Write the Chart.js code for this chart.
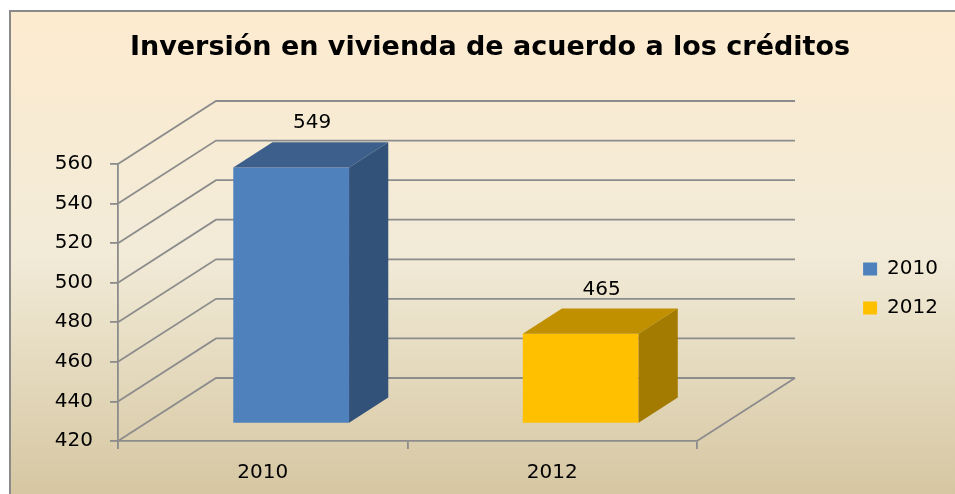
<!DOCTYPE html>
<html>
<head>
<meta charset="utf-8">
<script src="https://cdn.jsdelivr.net/npm/chart.js@4.4.1/dist/chart.umd.min.js"></script>
<style>
html,body{margin:0;padding:0;background:#ffffff;}
#wrap{width:955px;height:494px;position:relative;}
</style>
</head>
<body>
<div id="wrap"><canvas id="c" width="955" height="494"></canvas></div>
<script>
// ---- data ----
const categories = ['2010', '2012'];
const values = [549, 465];
const yTicks = [420, 440, 460, 480, 500, 520, 540, 560];
const titleText = 'Inversión en vivienda de acuerdo a los créditos';

// ---- styles ----
const frontColors = ['#4f81bd', '#ffc000'];
const topColors = ['#3c5f8c', '#c09000'];
const sideColors = ['#32527a', '#a37b00'];
const gridColor = '#8c8c8c';
const DEPTH_X = 98, DEPTH_Y = -63;       // 3D depth of the plot box
const FRONT_GAP = 0.29, BAR_DEPTH = 0.40; // fractions of depth
const tickFont = {family: 'DejaVu Sans', size: 20};

// legend width measure (to reserve 3D depth space)
const mctx = document.createElement('canvas').getContext('2d');
mctx.font = '20px "DejaVu Sans"';
const maxLabelW = Math.max(...categories.map(c => mctx.measureText(c).width));
const legendPad = 19, legendBoxW = 14;
const legendW = legendPad + legendBoxW + 10 + maxLabelW + 10;
const rightPad = 7;
const plotRight = 697;
const depthSpace = 955 - rightPad - legendW - plotRight;

const threeD = {
  id: 'threeD',
  beforeDraw(chart) {
    const ctx = chart.ctx;
    ctx.save();
    ctx.fillStyle = '#ffffff';
    ctx.fillRect(0, 0, chart.width, chart.height);
    const g = ctx.createLinearGradient(0, 10, 0, chart.height);
    g.addColorStop(0, '#fdebcf');
    g.addColorStop(0.5, '#f2ebd8');
    g.addColorStop(1, '#d6c7a2');
    ctx.fillStyle = g;
    ctx.fillRect(9, 10, chart.width - 9, chart.height - 10);
    ctx.strokeStyle = '#8a8a8a';
    ctx.lineWidth = 2;
    ctx.beginPath();
    ctx.moveTo(10, chart.height);
    ctx.lineTo(10, 11);
    ctx.lineTo(chart.width, 11);
    ctx.stroke();
    ctx.restore();
  },
  afterLayout(chart) {
    const lg = chart.legend;
    if (lg) { lg.top -= 14; lg.bottom -= 14; }
  },
  beforeDatasetsDraw(chart) {
    const ctx = chart.ctx;
    const ys = chart.scales.y;
    const a = chart.chartArea;
    ctx.save();
    ctx.strokeStyle = gridColor;
    ctx.lineWidth = 1.8;
    ctx.beginPath();
    yTicks.forEach(v => {
      const y = ys.getPixelForValue(v);
      ctx.moveTo(a.left, y);
      ctx.lineTo(a.left + DEPTH_X, y + DEPTH_Y);
      ctx.lineTo(a.right + DEPTH_X, y + DEPTH_Y);
    });
    const yb = ys.getPixelForValue(yTicks[0]);
    ctx.moveTo(a.right, yb);
    ctx.lineTo(a.right + DEPTH_X, yb + DEPTH_Y);
    ctx.stroke();
    ctx.restore();
    // shift bars into the depth
    ctx.save();
    ctx.translate(DEPTH_X * FRONT_GAP, DEPTH_Y * FRONT_GAP);
  },
  afterDatasetsDraw(chart) {
    const ctx = chart.ctx;
    const ys = chart.scales.y;
    const meta = chart.getDatasetMeta(0);
    const bx = DEPTH_X * BAR_DEPTH, by = DEPTH_Y * BAR_DEPTH;
    const base = ys.getPixelForValue(ys.min);
    meta.data.forEach((bar, i) => {
      const p = bar.getProps(['x', 'y', 'width'], true);
      const l = p.x - p.width / 2, r = p.x + p.width / 2;
      ctx.fillStyle = topColors[i];
      ctx.beginPath();
      ctx.moveTo(l, p.y); ctx.lineTo(r, p.y);
      ctx.lineTo(r + bx, p.y + by); ctx.lineTo(l + bx, p.y + by);
      ctx.closePath(); ctx.fill();
      ctx.fillStyle = sideColors[i];
      ctx.beginPath();
      ctx.moveTo(r, p.y); ctx.lineTo(r + bx, p.y + by);
      ctx.lineTo(r + bx, base + by); ctx.lineTo(r, base);
      ctx.closePath(); ctx.fill();
      // value label
      ctx.fillStyle = '#000000';
      ctx.font = '20px "DejaVu Sans"';
      ctx.textAlign = 'center';
      ctx.textBaseline = 'middle';
      ctx.fillText(String(values[i]), p.x + 21, p.y + by - 19);
    });
    ctx.restore();
  }
};

new Chart(document.getElementById('c'), {
  type: 'bar',
  data: {
    labels: categories,
    datasets: [{
      label: 'Inversión',
      data: values,
      backgroundColor: frontColors,
      borderWidth: 0,
      categoryPercentage: 1,
      barPercentage: 0.4
    }]
  },
  options: {
    responsive: false,
    animation: false,
    devicePixelRatio: 1,
    layout: {padding: {left: 32, right: rightPad, top: 0, bottom: 0}},
    plugins: {
      title: {
        display: true,
        text: titleText,
        color: '#000000',
        font: {family: 'DejaVu Sans', size: 27, weight: 'bold'},
        padding: {top: 32, bottom: 99.6}
      },
      legend: {
        display: true,
        position: 'right',
        fullSize: false,
        align: 'center',
        labels: {
          boxWidth: legendBoxW,
          boxHeight: 13,
          padding: legendPad,
          color: '#000000',
          font: tickFont,
          generateLabels: () => categories.map((c, i) => ({
            text: c, fillStyle: frontColors[i], strokeStyle: frontColors[i],
            lineWidth: 0, hidden: false, index: i, fontColor: '#000000'
          }))
        }
      },
      tooltip: {enabled: false}
    },
    scales: {
      x: {
        offset: true,
        grid: {display: true, drawOnChartArea: false, drawTicks: true, tickLength: 8, offset: true, color: gridColor, lineWidth: 1.8},
        border: {display: true, color: gridColor, width: 1.8},
        ticks: {font: tickFont, color: '#000000', padding: 12},
        afterFit: s => { s.height = 53; }
      },
      y: {
        min: yTicks[0],
        max: yTicks[yTicks.length - 1],
        afterBuildTicks: s => { s.ticks = yTicks.map(v => ({value: v})); },
        grid: {display: true, drawOnChartArea: false, drawTicks: true, tickLength: 8, color: gridColor, lineWidth: 1.8},
        border: {display: true, color: gridColor, width: 1.8},
        ticks: {font: tickFont, color: '#000000', padding: 17},
        afterFit: s => { s.width = 86; }
      },
      depth: {
        position: 'right',
        display: true,
        grid: {display: false},
        border: {display: false},
        ticks: {display: false},
        afterFit: s => { s.width = depthSpace; }
      }
    }
  },
  plugins: [threeD]
});
</script>
</body>
</html>
